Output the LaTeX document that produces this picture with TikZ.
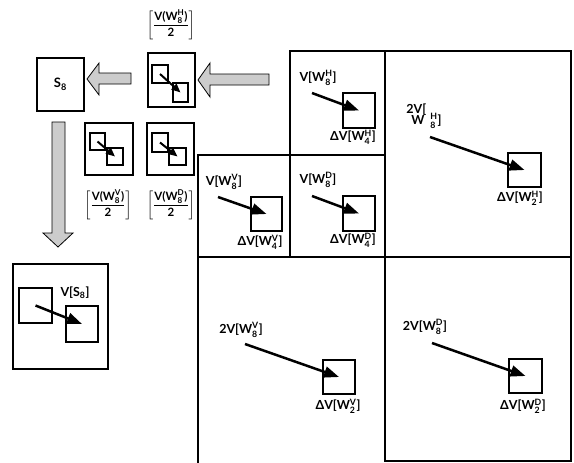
\documentclass[tikz,border=0pt]{standalone}
\usepackage{amsmath}
\usepackage{fontspec}
\setmainfont{Lato}
\usetikzlibrary{arrows.meta}
\newcommand{\wsub}[2]{\ensuremath{{}^{\text{#2}}_{\text{#1}}}}
\begin{document}
\begin{tikzpicture}[x=1pt,y=-1pt,
  cell/.style={draw, line width=1.6pt, anchor=north west, inner sep=0pt, outer sep=0pt},
  icon/.style={draw, line width=1.7pt, anchor=north west, inner sep=0pt, font=\fontsize{13}{14}\selectfont\bfseries},
  sq/.style={draw, line width=1.2pt, anchor=north west, inner sep=0pt, outer sep=0pt},
  lab/.style={font=\fontsize{12.5}{13}\selectfont\bfseries, inner sep=0pt},
  frac/.style={font=\fontsize{11.5}{12}\selectfont\bfseries, inner sep=0pt},
  vec/.style={line width=2.5pt, -{Triangle[length=15pt,width=11pt]}},
  svec/.style={line width=2pt, -{Triangle[length=9pt,width=7.5pt]}},
  fat/.style={draw=black, line width=0.8pt, fill=gray!40}]
\useasboundingbox[fill=white] (0,0) rectangle (574,463);

% grid cells
\node[cell, minimum width=95pt, minimum height=104pt] (cH) at (290,51) {};
\node[cell, minimum width=95pt, minimum height=102pt] (cD) at (290,155) {};
\node[cell, minimum width=92pt, minimum height=102pt] (cV) at (198,155) {};
\node[cell, minimum width=186pt, minimum height=206pt] (c2H) at (385,51) {};
\node[cell, minimum width=186pt, minimum height=204pt] (c2D) at (385,257) {};
\node[cell, draw=none, minimum width=187pt, minimum height=206pt] (c2V) at (198,257) {};
\draw[line width=1.6pt] (c2V.north west) -- (c2V.south west);

% icon boxes
\node[icon, minimum width=47pt, minimum height=53pt] (S8) at (36,57) {S\ensuremath{_{\text{8}}}};
\node[icon, minimum width=47pt, minimum height=54pt] (mH) at (147,52) {};
\node[icon, minimum width=48pt, minimum height=52pt] (mV) at (84,122) {};
\node[icon, minimum width=47pt, minimum height=52pt] (mD) at (146,122) {};
\node[icon, minimum width=95pt, minimum height=105pt] (VS) at (12,263) {};

% inner squares
\node[sq, minimum width=16pt, minimum height=18pt] (mH1) at (152,65) {};
\node[sq, minimum width=15pt, minimum height=19pt] (mH2) at (173,83) {};
\node[sq, minimum width=15pt, minimum height=17pt] (mV1) at (90,133) {};
\node[sq, minimum width=16pt, minimum height=17pt] (mV2) at (107,148) {};
\node[sq, minimum width=16pt, minimum height=19pt] (mD1) at (152,133) {};
\node[sq, minimum width=17pt, minimum height=17pt] (mD2) at (169,148) {};
\node[sq, minimum width=33pt, minimum height=35pt] (VS1) at (19,288) {};
\node[sq, minimum width=32pt, minimum height=36pt] (VS2) at (66,306) {};
\node[sq, minimum width=32pt, minimum height=35pt] (qH) at (343,93) {};
\node[sq, minimum width=32pt, minimum height=35pt] (qD) at (343,196) {};
\node[sq, minimum width=31pt, minimum height=34pt] (qV) at (251,197) {};
\node[sq, minimum width=33pt, minimum height=34pt] (q2H) at (508,153) {};
\node[sq, minimum width=32pt, minimum height=34pt] (q2V) at (323,360) {};
\node[sq, minimum width=33pt, minimum height=34pt] (q2D) at (509,359) {};

% icon vectors
\draw[svec] (mH1.center) -- (mH2.center);
\draw[svec] (mV1.center) -- (mV2.center);
\draw[svec] (mD1.center) -- (mD2.center);
\draw[vec] (VS1.center) -- (VS2.center);

% cell vectors
\coordinate (sH) at (312,93);
\coordinate (sD) at (312,196);
\coordinate (sV) at (218,197);
\coordinate (s2H) at (430,137);
\coordinate (s2V) at (245,344);
\coordinate (s2D) at (432,343);
\draw[vec] (sH) -- (qH.center);
\draw[vec] (sD) -- (qD.center);
\draw[vec] (sV) -- (qV.center);
\draw[vec] (s2H) -- (q2H.center);
\draw[vec] (s2V) -- (q2V.center);
\draw[vec] (s2D) -- (q2D.center);

% labels
\node[lab] (lH) at (318,78) {V[W\wsub{8}{H}]};
\node[lab] (ldH) at (353,137) {ΔV[W\wsub{4}{H}]};
\node[lab] (lD) at (318,180) {V[W\wsub{8}{D}]};
\node[lab] (ldD) at (353,240) {ΔV[W\wsub{4}{D}]};
\node[lab] (lV) at (224,182) {V[W\wsub{8}{V}]};
\node[lab] (ldV) at (260,242) {ΔV[W\wsub{4}{V}]};
\node[lab, align=left] (l2H) at (424,116) {2V[\\[-2pt]\hspace{5pt}W\hspace{6pt}\wsub{8}{H}]};
\node[lab] (ld2H) at (520,198) {ΔV[W\wsub{2}{H}]};
\node[lab] (l2V) at (241,330) {2V[W\wsub{8}{V}]};
\node[lab] (ld2V) at (338,406) {ΔV[W\wsub{2}{V}]};
\node[lab] (l2D) at (425,327) {2V[W\wsub{8}{D}]};
\node[lab] (ld2D) at (523,406) {ΔV[W\wsub{2}{D}]};
\node[lab] (lVS) at (75,293) {V[S\ensuremath{_{\text{8}}}]};

% fraction labels
\node[frac] (fH) at (171,25) {$\left[\dfrac{\text{V(W}\wsub{8}{H}\text{)}}{\text{2}}\right]$};
\node[frac] (fV) at (108,205) {$\left[\dfrac{\text{V(W}\wsub{8}{V}\text{)}}{\text{2}}\right]$};
\node[frac] (fD) at (171,205) {$\left[\dfrac{\text{V(W}\wsub{8}{D}\text{)}}{\text{2}}\right]$};

% fat arrows
\draw[fat] (269,74) -- (210,74) -- (210,63) -- (198,80) -- (210,97) -- (210,85) -- (269,85) -- cycle;
\draw[fat] (131,73) -- (99,73) -- (99,63) -- (87,79) -- (99,95) -- (99,84) -- (131,84) -- cycle;
\draw[fat] (52,122) -- (52,233) -- (43,233) -- (58,247) -- (73,233) -- (65,233) -- (65,122) -- cycle;
\end{tikzpicture}
\end{document}
